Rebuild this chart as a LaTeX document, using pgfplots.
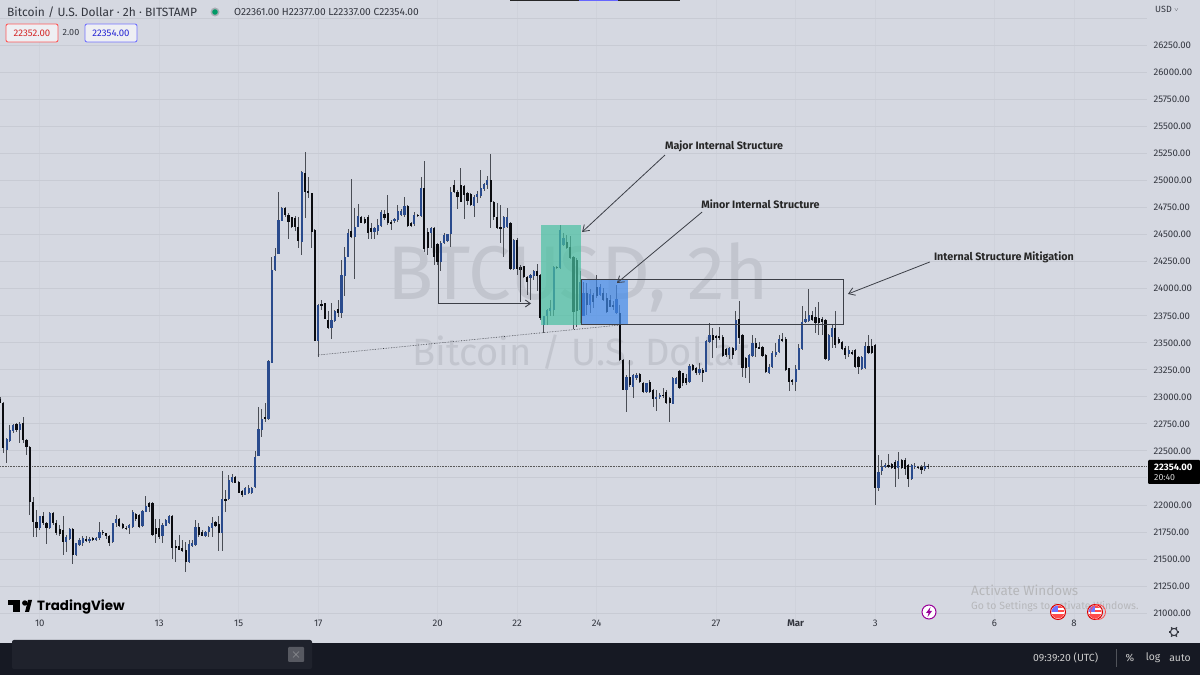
\documentclass[border=0pt]{standalone}
\usepackage{pgfplots}
\usepackage{pgfplotstable}
\usepackage{fontspec}
\pgfplotsset{compat=1.18}
\usetikzlibrary{arrows.meta}
\setmainfont{Fira Sans}
\newfontfamily\logofont{Poppins}
\definecolor{bgc}{HTML}{D5D8E1}
\definecolor{gridh}{HTML}{C8CBD4}
\definecolor{gridv}{HTML}{CFD2DB}
\definecolor{inkc}{HTML}{33363F}
\definecolor{upc}{HTML}{2A4B8D}
\definecolor{downc}{HTML}{0B0C10}
\definecolor{wickc}{HTML}{4A4D55}
\definecolor{barc}{HTML}{161923}
\definecolor{toastc}{HTML}{1F222C}
\definecolor{tealc}{HTML}{49C1A1}
\definecolor{bluec}{HTML}{428BEB}
\definecolor{wmc}{HTML}{C2C5CE}
\definecolor{annc}{HTML}{3C3F47}
\pgfplotstableread{
i o h l c
0 22985 23000 22940 22945
1 22945 22950 22480 22525
2 22510 22620 22385 22610
3 22595 22740 22585 22690
4 22680 22750 22670 22740
5 22745 22760 22680 22690
6 22695 22770 22575 22745
7 22760 22815 22570 22605
8 22605 22615 22465 22540
9 22540 22545 21907 22030
10 22030 22075 21707 21845
11 21845 21955 21707 21785
12 21785 21900 21770 21895
13 21895 21940 21815 21830
14 21835 21845 21640 21785
15 21785 21935 21780 21930
16 21930 21940 21815 21830
17 21830 21865 21720 21740
18 21780 21815 21710 21730
19 21770 21900 21540 21660
20 21655 21720 21570 21700
21 21690 21790 21675 21780
22 21780 21790 21455 21535
23 21535 21650 21530 21645
24 21630 21695 21620 21680
25 21650 21715 21620 21695
26 21690 21715 21660 21672
27 21672 21705 21645 21690
28 21690 21700 21670 21680
29 21680 21705 21670 21695
30 21695 21845 21680 21755
31 21755 21765 21725 21740
32 21740 21745 21690 21710
33 21710 21720 21625 21645
34 21660 21835 21650 21830
35 21830 21910 21800 21870
36 21870 21880 21795 21805
37 21820 21830 21775 21785
38 21790 21805 21770 21780
39 21785 21825 21730 21815
40 21800 21955 21790 21940
41 21915 21925 21855 21870
42 21905 21915 21790 21800
43 21808 21955 21800 21945
44 21940 22083 21935 21990
45 22020 22030 21940 21985
46 22020 22030 21715 21720
47 21790 21875 21645 21735
48 21790 21875 21690 21707
49 21710 21830 21645 21815
50 21810 21870 21805 21860
51 21830 21905 21825 21898
52 21898 21905 21505 21600
53 21625 21675 21475 21600
54 21625 21720 21580 21585
55 21600 21680 21570 21578
56 21585 21660 21385 21475
57 21470 21680 21460 21640
58 21625 21680 21615 21645
59 21630 21860 21625 21795
60 21795 21830 21705 21725
61 21750 21770 21710 21715
62 21717 21760 21708 21750
63 21755 21810 21705 21800
64 21785 21885 21705 21835
65 21845 21855 21800 21810
66 21825 21900 21578 21738
67 21745 22315 21578 22052
68 22060 22140 21938 22040
69 22052 22277 22046 22230
70 22215 22290 22200 22262
71 22262 22270 22200 22207
72 22215 22225 22110 22115
73 22125 22140 22070 22095
74 22095 22165 22090 22155
75 22110 22185 22100 22155
76 22110 22170 22100 22155
77 22170 22495 22155 22440
78 22453 22903 22450 22700
79 22695 22885 22632 22792
80 22815 22947 22770 22792
81 22795 23345 22790 23330
82 23317 24297 23310 24174
83 24170 24375 24160 24300
84 24325 24898 24325 24636
85 24630 24755 24625 24744
86 24744 24760 24665 24682
87 24682 24698 24457 24620
88 24660 24665 24565 24575
89 24650 24670 24530 24570
90 24575 24665 24375 24445
91 24436 25090 24312 25083
92 25068 25268 24650 24898
93 24905 25037 24836 24883
94 24883 24890 24375 24528
95 24545 24550 23515 23520
96 23520 23860 23372 23850
97 23856 23895 23800 23845
98 23865 23872 23720 23725
99 23710 23790 23625 23635
100 23635 23865 23540 23710
101 23700 23805 23695 23790
102 23810 23895 23740 23780
103 23780 24266 23727 24128
104 24118 24390 23933 24297
105 24297 24550 24290 24513
106 24530 25012 24467 24482
107 24482 24744 24087 24574
108 24570 24784 24568 24673
109 24660 24670 24605 24610
110 24650 24665 24600 24605
111 24667 24680 24457 24513
112 24559 24605 24457 24522
113 24522 24570 24457 24559
114 24530 24650 24497 24590
115 24580 24730 24575 24713
116 24690 24730 24640 24650
117 24705 24867 24590 24605
118 24620 24635 24545 24605
119 24627 24655 24610 24642
120 24635 24775 24620 24722
121 24683 24740 24675 24722
122 24683 24845 24665 24765
123 24765 24775 24575 24580
124 24611 24620 24570 24580
125 24596 24713 24580 24682
126 24682 24690 24665 24675
127 24672 25037 24667 24929
128 24929 25185 24343 24365
129 24528 24560 24312 24375
130 24512 24570 24375 24559
131 24559 24575 24220 24297
132 24414 24420 24220 24250
133 24250 24440 24168 24420
134 24420 24520 24415 24497
135 24442 24510 24435 24503
136 24503 24945 24390 24898
137 24960 25005 24890 24898
138 24898 24915 24735 24852
139 24960 25114 24800 24805
140 24953 24960 24642 24867
141 24883 24898 24775 24815
142 24877 24885 24770 24775
143 24766 24867 24667 24852
144 24846 24900 24796 24880
145 24858 25098 24836 24929
146 24920 24980 24900 24966
147 24960 25043 24920 25006
148 25006 25247 24559 24805
149 24805 24810 24640 24660
150 24660 24790 24550 24560
151 24566 24775 24427 24555
152 24560 24670 24297 24660
153 24570 24744 24560 24665
154 24611 24620 24175 24180
155 24180 24460 24175 24451
156 24451 24466 24127 24180
157 24200 24220 24130 24175
158 24210 24215 24100 24105
159 24105 24118 23940 24065
160 24096 24135 23895 24127
161 24120 24175 24085 24165
162 24165 24230 23975 24118
163 24127 24135 23712 23727
164 23665 23750 23595 23745
165 23745 23815 23665 23805
166 23790 23896 23750 23820
167 23804 24211 23750 24205
168 24205 24215 24180 24190
169 24190 24590 24185 24545
170 24405 24520 24396 24467
171 24436 24498 24365 24375
172 24390 24488 24273 24282
173 24297 24305 23630 23789
174 24266 24282 23650 23790
175 23800 24160 23680 24060
176 23750 24060 23745 23960
177 23960 24057 23758 23850
178 23850 23995 23775 23950
179 23945 23960 23820 23880
180 24014 24128 23912 23930
181 23945 24040 23935 24014
182 23965 24005 23890 23897
183 23912 23960 23775 23789
184 23897 23945 23829 23835
185 23850 23890 23805 23835
186 23775 24035 23770 23903
187 23775 23850 23335 23340
188 23345 23350 23060 23064
189 23064 23200 22864 23188
190 23188 23340 23095 23110
191 23095 23215 22987 23203
192 23172 23220 23160 23203
193 23212 23225 23130 23140
194 23125 23135 23035 23048
195 23048 23130 23035 23125
196 23140 23155 23040 23048
197 23064 23070 22910 22980
198 22980 23065 22870 23000
199 23000 23040 22985 23018
200 23018 23080 22990 23010
201 23048 23060 22930 22941
202 22987 23000 22771 22941
203 22935 23180 22930 23172
204 23120 23185 23115 23172
205 23243 23250 23075 23080
206 23218 23225 23100 23125
207 23172 23210 23110 23125
208 23140 23300 23130 23290
209 23295 23305 23240 23250
210 23265 23280 23205 23218
211 23218 23315 23200 23255
212 23250 23265 23140 23218
213 23234 23525 23228 23520
214 23510 23680 23500 23575
215 23570 23635 23357 23530
216 23560 23570 23450 23545
217 23565 23650 23525 23550
218 23557 23570 23370 23380
219 23440 23450 23370 23390
220 23390 23460 23348 23450
221 23450 23460 23350 23390
222 23434 23790 23425 23712
223 23718 23890 23490 23542
224 23573 23580 23180 23265
225 23357 23365 23172 23265
226 23274 23400 23125 23388
227 23378 23573 23365 23495
228 23502 23548 23365 23450
229 23460 23510 23440 23450
230 23465 23475 23370 23380
231 23388 23395 23225 23234
232 23225 23305 23210 23280
233 23274 23420 23265 23410
234 23388 23502 23372 23418
235 23418 23573 23410 23533
236 23540 23595 23510 23520
237 23540 23550 23240 23249
238 23265 23270 23058 23140
239 23155 23165 23110 23140
240 23140 23295 23050 23255
241 23250 23490 23245 23450
242 23440 23840 23435 23696
243 23690 23790 23680 23718
244 23700 23995 23690 23762
245 23762 23790 23700 23712
246 23743 23830 23590 23687
247 23733 23880 23573 23680
248 23718 23742 23573 23696
249 23712 23720 23340 23348
250 23340 23585 23335 23573
251 23557 23665 23455 23635
252 23635 23790 23450 23480
253 23532 23550 23490 23502
254 23510 23520 23430 23440
255 23450 23470 23348 23388
256 23398 23470 23365 23435
257 23418 23430 23385 23403
258 23434 23445 23265 23280
259 23366 23375 23212 23280
260 23255 23375 23245 23366
261 23265 23510 23258 23470
262 23470 23573 23400 23410
263 23470 23540 23400 23410
264 23480 23490 22000 22155
265 22155 22463 22133 22310
266 22310 22415 22278 22355
267 22355 22385 22345 22370
268 22365 22472 22340 22355
269 22380 22390 22330 22340
270 22400 22415 22170 22335
271 22340 22494 22245 22410
272 22420 22430 22330 22340
273 22420 22432 22280 22335
274 22370 22380 22165 22240
275 22240 22380 22235 22370
276 22355 22390 22335 22360
277 22355 22365 22330 22340
278 22355 22370 22285 22325
279 22330 22400 22318 22361
280 22361 22377 22337 22354
}\candles
\begin{document}
\begin{tikzpicture}[x=1pt,y=1pt]
\useasboundingbox (0,0) rectangle (1200,675);
\fill[bgc] (0,0) rectangle (1200,675);
\begin{axis}[
  at={(0pt,53pt)}, anchor=south west,
  width=1147pt, height=622pt, scale only axis,
  xmin=0, xmax=346, ymin=20918, ymax=26671,
  axis line style={draw=none}, tick style={draw=none},
  xtick={12,48,72,96,132,156,180,216,240,264,300,324},
  xticklabels={10,13,15,17,20,22,24,27,\textbf{Mar},3,6,8},
  ytick={21000,21250,21500,21750,22000,22500,22750,23000,23250,23500,23750,24000,24250,24500,24750,25000,25250,25500,25750,26000,26250},
  extra y ticks={22250,26500}, extra y tick labels={,},
  scaled y ticks=false,
  yticklabel pos=right,
  yticklabel style={/pgf/number format/fixed, /pgf/number format/fixed zerofill, /pgf/number format/precision=2, /pgf/number format/1000 sep={}, /pgf/number format/assume math mode=true, font=\fontsize{9.6}{11}\selectfont, text=inkc, anchor=west, xshift=3pt},
  xticklabel style={font=\fontsize{9.6}{11}\selectfont, text=inkc, anchor=center, yshift=-1pt},
  major tick length=0pt,
  xmajorgrids=true, ymajorgrids=true,
  x grid style={gridv, line width=0.8pt},
  y grid style={gridh, line width=1pt},
  clip=false,
  axis on top=false,
]
% watermark
\node[anchor=west, text=wmc, inner sep=0pt, font=\fontsize{76}{88}\selectfont] at (axis cs:116.7,24109) {BTCUSD, 2h};
\node[anchor=west, text=wmc, inner sep=0pt, font=\fontsize{38}{44}\selectfont] at (axis cs:124.3,23415) {Bitcoin / U.S. Dollar};
% last price line
\addplot[black!65, line width=0.6pt, densely dotted] coordinates {(0,22354) (346,22354)};
% wicks
\addplot[draw=none, mark=none, forget plot,
  error bars/.cd, y dir=both, y explicit, error mark=none,
  error bar style={wickc, line width=0.9pt}]
  table[x=i, y expr={(\thisrow{h}+\thisrow{l})/2}, y error expr={(\thisrow{h}-\thisrow{l})/2}] {\candles};
% bodies rising
\addplot[draw=none, mark=none, forget plot,
  error bars/.cd, y dir=both, y explicit, error mark=none,
  error bar style={upc, line width=2.2pt}]
  table[x=i, y expr={\thisrow{c}>=\thisrow{o} ? (\thisrow{o}+\thisrow{c})/2 : nan}, y error expr={max(abs(\thisrow{c}-\thisrow{o})/2,7)}] {\candles};
% bodies falling
\addplot[draw=none, mark=none, forget plot,
  error bars/.cd, y dir=both, y explicit, error mark=none,
  error bar style={downc, line width=2.2pt}]
  table[x=i, y expr={\thisrow{c}<\thisrow{o} ? (\thisrow{o}+\thisrow{c})/2 : nan}, y error expr={max(abs(\thisrow{c}-\thisrow{o})/2,7)}] {\candles};
% zones
\fill[tealc, opacity=0.7] (axis cs:163.2,24590) rectangle (axis cs:175.3,23665);
\fill[bluec, opacity=0.7] (axis cs:175.3,24090) rectangle (axis cs:189.4,23665);
\draw[annc, line width=0.9pt] (axis cs:175.3,24090) rectangle (axis cs:254.3,23674);
% drawings
\draw[annc, line width=0.6pt, densely dotted] (axis cs:95.9,23387) -- (axis cs:187,23665);
\draw[annc, line width=0.9pt] (axis cs:132.2,24248) -- (axis cs:132.2,23864);
\draw[annc, line width=0.9pt, -{Straight Barb[length=5pt,width=7pt]}] (axis cs:132.2,23864) -- (axis cs:160.2,23864);
\draw[annc, line width=0.7pt] (axis cs:156.9,24200) -- (axis cs:156.9,23875);
\draw[annc, line width=0.8pt, -{Straight Barb[length=6pt,width=8pt]}] (axis cs:200.6,25237) -- (axis cs:175.6,24525);
\draw[annc, line width=0.8pt, -{Straight Barb[length=6pt,width=8pt]}] (axis cs:211.8,24710) -- (axis cs:186.1,24053);
\draw[annc, line width=0.8pt, -{Straight Barb[length=6pt,width=8pt]}] (axis cs:280.5,24248) -- (axis cs:255.8,23952);
\node[anchor=west, inner sep=0pt, text=black!85, font=\fontsize{10.75}{12}\selectfont\bfseries] at (axis cs:200.6,25320) {Major Internal Structure};
\node[anchor=west, inner sep=0pt, text=black!85, font=\fontsize{10.75}{12}\selectfont\bfseries] at (axis cs:211.5,24784) {Minor Internal Structure};
\node[anchor=west, inner sep=0pt, text=black!85, font=\fontsize{10.75}{12}\selectfont\bfseries] at (axis cs:281.7,24294) {Internal Structure Mitigation};
\end{axis}
% header
\node[anchor=west, inner sep=0pt, text=inkc, font=\fontsize{12}{14}\selectfont] at (7,663) {Bitcoin / U.S. Dollar · 2h · BITSTAMP};
\fill[bgc!80!black] (215,663) circle (4.5);
\fill[teal!80!green] (215,663) circle (2.8);
\node[anchor=west, inner sep=0pt, text=inkc, font=\fontsize{10.2}{12}\selectfont] at (234,663) {O22361.00 H22377.00 L22337.00 C22354.00};
\draw[red!65!white, line width=0.9pt, rounded corners=2pt, fill=bgc!40!white] (6,633) rectangle (58,651);
\node[text=red!80!black!85, inner sep=0pt, font=\fontsize{9.6}{11}\selectfont] at (32,642) {22352.00};
\node[text=inkc, inner sep=0pt, font=\fontsize{9}{11}\selectfont] at (71,642) {2.00};
\draw[blue!55!white, line width=0.9pt, rounded corners=2pt, fill=bgc!40!white] (85,633) rectangle (137,651);
\node[text=blue!80!black!85, inner sep=0pt, font=\fontsize{9.6}{11}\selectfont] at (111,642) {22354.00};
% top tab
\fill[black!85] (510,674) rectangle (680,675);
\fill[blue!60!white] (579,673.5) rectangle (618,675);
% USD
\node[text=inkc, inner sep=0pt, anchor=west, font=\fontsize{9}{11}\selectfont] at (1155,666) {USD \raisebox{1pt}{\tiny$\vee$}};
% price tag
\fill[black, rounded corners=1pt] (1148,191) rectangle (1200,215);
\node[text=white, inner sep=0pt, font=\fontsize{9.4}{11}\selectfont\bfseries, anchor=west] at (1154,208) {22354.00};
\node[text=white!85!black, inner sep=0pt, font=\fontsize{8.8}{10}\selectfont, anchor=west] at (1154,197.5) {20:40};
% logo
\fill[black] (8,75) rectangle (19.5,69.5);
\fill[black] (13,69.5) rectangle (19.5,63);
\fill[black] (24.8,72) circle (2.7);
\fill[black] (25,63) -- (28,75) -- (32,75) -- (29,63) -- cycle;
\node[anchor=west, inner sep=0pt, text=black, font=\logofont\fontsize{13.4}{16}\selectfont\bfseries] at (37,68.5) {TradingView};
% activate windows
\node[anchor=west, inner sep=0pt, text=black!35, opacity=0.65, font=\fontsize{13.5}{15}\selectfont] at (971,85) {Activate Windows};
\node[anchor=west, inner sep=0pt, text=black!35, opacity=0.65, font=\fontsize{10.5}{12}\selectfont] at (971,68) {Go to Settings to activate Windows.};
% events
\draw[violet!80!magenta, line width=1pt, fill=white] (929,63) circle (7);
\fill[violet!80!magenta] (930.5,68) -- (926,62) -- (928.6,62) -- (927.5,58) -- (932,64) -- (929.4,64) -- cycle;
\foreach \ex in {1058,1095}{
  \draw[red!85!black, line width=1pt, fill=white] (\ex,63) circle (7.5);
  \begin{scope}
  \clip (\ex,63) circle (6.5);
  \fill[red!70!white] (\ex-7,56) rectangle (\ex+7,70);
  \fill[white] (\ex-7,61) rectangle (\ex+7,63);
  \fill[white] (\ex-7,65) rectangle (\ex+7,67);
  \fill[blue!55!white] (\ex-7,63) rectangle (\ex,70);
  \end{scope}
}
\draw[red!70!white, line width=0.8pt] (1098,63) circle (7.5);
% gear
\draw[inkc, line width=1pt] (1174,43) circle (3.6);
\foreach \a in {0,60,...,300}{\draw[inkc, line width=1.4pt] (1174,43) ++(\a:3.6) -- ++(\a:1.8);}
% bottom bar
\fill[barc] (0,0) rectangle (1200,32);
\fill[toastc, rounded corners=2pt] (12,6) rectangle (312,35);
\fill[white!25!toastc, rounded corners=1pt] (288,13) rectangle (304,28);
\draw[white!50!toastc, line width=0.6pt] (293,17.5) -- (299,23.5) (293,23.5) -- (299,17.5);
\node[anchor=west, inner sep=0pt, text=white!80!black, font=\fontsize{10.4}{12}\selectfont] at (1033,17) {09:39:20 (UTC)};
\draw[white!25!barc, line width=0.7pt] (1116,8) -- (1116,26);
\node[anchor=center, inner sep=0pt, text=white!80!black, font=\fontsize{10.4}{12}\selectfont] at (1130,17) {\%};
\node[anchor=center, inner sep=0pt, text=white!80!black, font=\fontsize{10.4}{12}\selectfont] at (1153,17) {log};
\node[anchor=center, inner sep=0pt, text=white!80!black, font=\fontsize{10.4}{12}\selectfont] at (1180,17) {auto};
\end{tikzpicture}
\end{document}
